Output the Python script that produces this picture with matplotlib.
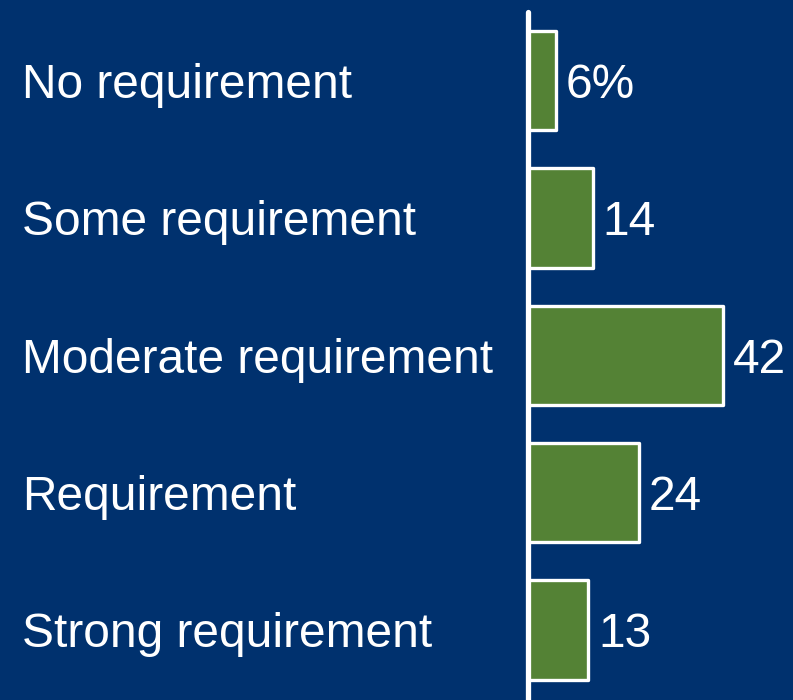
import matplotlib
matplotlib.use("Agg")
import matplotlib.pyplot as plt
from matplotlib.transforms import offset_copy

categories = ["No requirement", "Some requirement", "Moderate requirement",
              "Requirement", "Strong requirement"]
values = [6, 14, 42, 24, 13]
value_labels = ["6%", "14", "42", "24", "13"]

BG = "#00316E"
BAR = "#548235"

plt.rcParams["font.family"] = ["Liberation Sans", "DejaVu Sans"]

W, H = 793, 700
fig = plt.figure(figsize=(W / 100, H / 100), dpi=100, facecolor=BG)
ax_left = 528 / W
ax = fig.add_axes([ax_left, 0, 1 - ax_left, (H - 12) / H], facecolor=BG)

y = list(range(len(categories)))
ax.barh(y, values, height=0.725, color=BAR, edgecolor="white",
        linewidth=2.4, joinstyle="round", zorder=2)

ax.set_xlim(0, (W - 528) / 4.64)
ax.set_ylim(4.51, -0.5)

# text sits a few pixels below the bar centre
shifted = offset_copy(ax.transData, fig=fig, x=0, y=-5, units="dots")
for yi, v, lab in zip(y, values, value_labels):
    ax.text(v + 2.1, yi, lab, va="center", ha="left", color="white",
            fontsize=34.5, transform=shifted)

# category labels left aligned in figure coordinates
for yi, cat in zip(y, categories):
    disp = ax.transData.transform((0, yi))
    fy = (disp[1] - 5) / H
    fig.text(22 / W, fy, cat, va="center", ha="left", color="white",
             fontsize=34.5)

for s in ["top", "right", "bottom"]:
    ax.spines[s].set_visible(False)
ax.spines["left"].set_color("white")
ax.spines["left"].set_linewidth(3.8)
ax.spines["left"].set_capstyle("round")
ax.spines["left"].set_zorder(3)
ax.set_xticks([])
ax.set_yticks([])

fig.savefig("out.png", dpi=100, facecolor=BG)
